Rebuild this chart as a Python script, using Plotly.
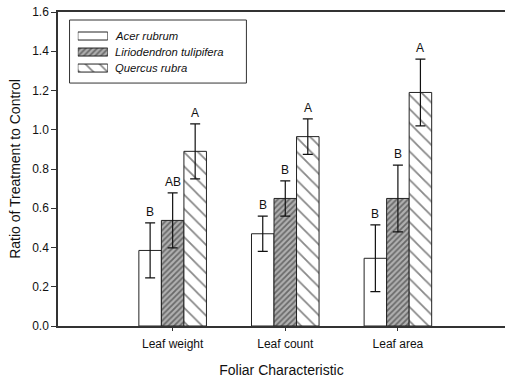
import plotly.graph_objects as go

categories = ["Leaf weight", "Leaf count", "Leaf area"]
species = ["Acer rubrum", "Liriodendron tulipifera", "Quercus rubra"]
acer = [0.385, 0.47, 0.345]
acer_err = [0.14, 0.09, 0.17]
lirio = [0.538, 0.65, 0.65]
lirio_err = [0.14, 0.09, 0.17]
quercus = [0.89, 0.965, 1.19]
quercus_err = [0.14, 0.09, 0.17]
letters_acer = ["B", "B", "B"]
letters_lirio = ["AB", "B", "B"]
letters_quercus = ["A", "A", "A"]

FONT = "Liberation Sans, Arial, sans-serif"

patterns = [
    dict(shape="", size=8, solidity=0.2, fgcolor="#222222", bgcolor="white"),
    dict(shape="/", size=4, solidity=0.45, fgcolor="#222222", bgcolor="#b0b0b0"),
    dict(shape="\\", size=10, solidity=0.18, fgcolor="#111111", bgcolor="white"),
]

fig = go.Figure()
for name, vals, errs, pat in zip(species, [acer, lirio, quercus],
                                 [acer_err, lirio_err, quercus_err], patterns):
    fig.add_trace(go.Bar(
        x=categories, y=vals, name=name, showlegend=False,
        marker=dict(color="white", line=dict(color="#222222", width=1),
                    pattern=dict(fillmode="overlay", **pat)),
        error_y=dict(type="data", array=errs, visible=True, color="#111111", thickness=1.2, width=5),
    ))

# custom legend: swatches drawn as bars on a small helper axis
fig.add_trace(go.Bar(
    x=[1, 1, 1], y=[0, 1, 2], base=0, orientation="h", width=0.5,
    xaxis="x2", yaxis="y2", showlegend=False, hoverinfo="skip",
    marker=dict(color="white", line=dict(color="#222222", width=1),
                pattern=dict(fillmode="overlay",
                             shape=[p["shape"] for p in patterns],
                             size=[p["size"] for p in patterns],
                             solidity=[p["solidity"] for p in patterns],
                             fgcolor=[p["fgcolor"] for p in patterns],
                             bgcolor=[p["bgcolor"] for p in patterns])),
))
row_y = [0.9235, 0.8725, 0.8215]
for name, yy in zip(species, row_y):
    fig.add_annotation(xref="paper", yref="paper", x=0.1232, y=yy, text=f"<i>{name}</i>",
                       showarrow=False, xanchor="left", yanchor="middle",
                       font=dict(family=FONT, size=11.3, color="#111111"))
fig.add_shape(type="rect", xref="paper", yref="paper", x0=0.0258, x1=0.4215, y0=0.7737, y1=0.9745,
              line=dict(color="#333333", width=1), fillcolor="rgba(0,0,0,0)")

offsets = [-0.2, 0.0, 0.2]
for off, vals, errs, lets in [(offsets[0], acer, acer_err, letters_acer),
                              (offsets[1], lirio, lirio_err, letters_lirio),
                              (offsets[2], quercus, quercus_err, letters_quercus)]:
    for i, (v, e, l) in enumerate(zip(vals, errs, lets)):
        fig.add_annotation(x=i + off, y=v + e, text=l, showarrow=False,
                           yanchor="bottom", yshift=2,
                           font=dict(family=FONT, size=12, color="#111111"))

fig.update_layout(
    width=505, height=381,
    margin=dict(l=58, r=0, t=12, b=55),
    paper_bgcolor="white", plot_bgcolor="white",
    barmode="group", bargap=0.4, bargroupgap=0,
    font=dict(family=FONT, size=12, color="#111111"),
    showlegend=False,
    xaxis=dict(range=[-1.018, 2.951], showline=True, linecolor="#333333", linewidth=1.5,
               mirror=True, ticks="outside", ticklen=3, tickcolor="#333333",
               ticklabelstandoff=3,
               title=dict(text="Foliar Characteristic", font=dict(family=FONT, size=14), standoff=15),
               tickfont=dict(family=FONT, size=12), showgrid=False, zeroline=False),
    yaxis=dict(range=[0, 1.6], dtick=0.2, tickformat=".1f", showline=True, linecolor="#333333",
               linewidth=1.5, ticks="outside", ticklen=5, tickcolor="#333333",
               title=dict(text="Ratio of Treatment to Control", font=dict(family=FONT, size=14), standoff=8),
               tickfont=dict(family=FONT, size=12), showgrid=False, zeroline=False),
    xaxis2=dict(domain=[0.0443, 0.1115], range=[0, 1], anchor="y2", visible=False, fixedrange=True),
    yaxis2=dict(domain=[0.796, 0.949], range=[2.5, -0.5], anchor="x2", visible=False, fixedrange=True),
)
fig.write_html("out.html", config={"displayModeBar": False},
               post_script="document.body.style.margin='0px';")
